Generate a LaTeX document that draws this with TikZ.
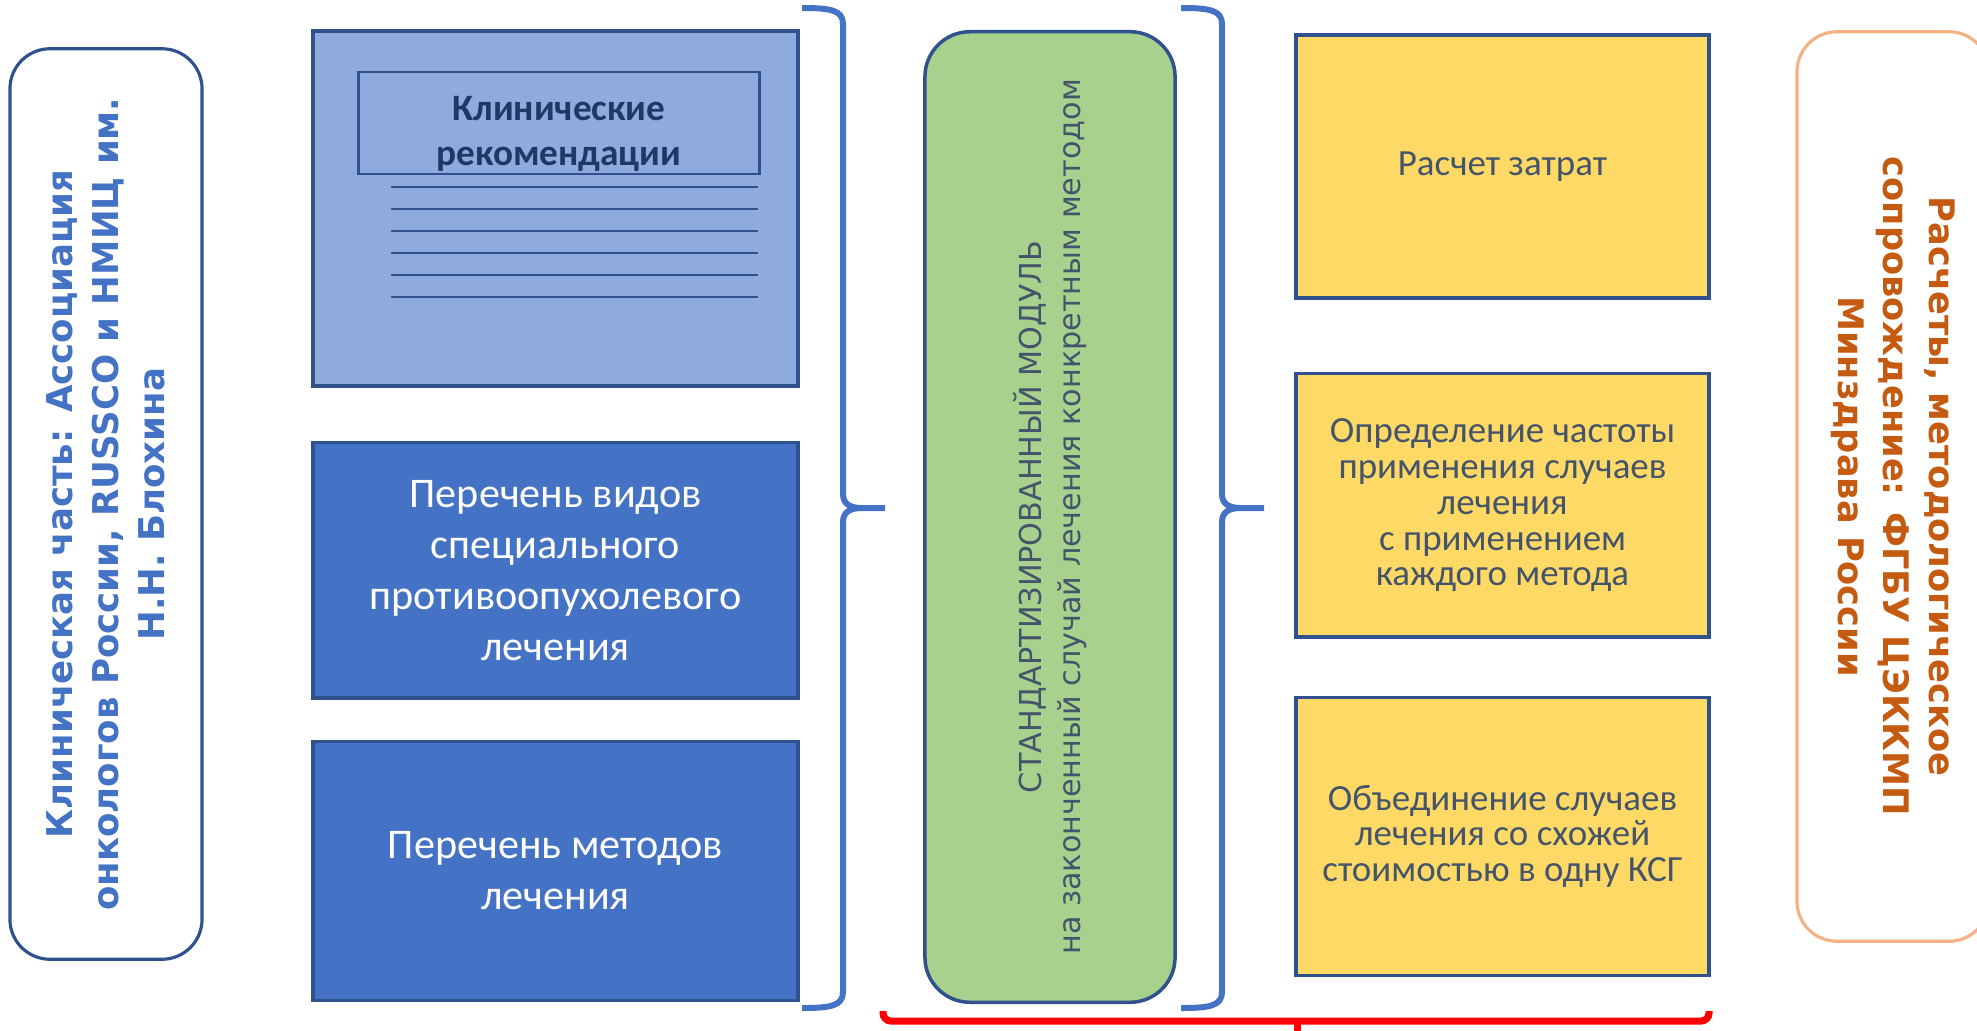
\documentclass[tikz,border=0pt]{standalone}
\usepackage{fontspec}
\setmainfont{Carlito}
\newfontfamily\widefont{DejaVu Sans}
\usepackage{xcolor}
\usepackage{tikz}
\usetikzlibrary{positioning}

\definecolor{boxline}{HTML}{2F528F}
\definecolor{lightblue}{HTML}{8FAADC}
\definecolor{darkblue}{HTML}{4472C4}
\definecolor{greenfill}{HTML}{A9D18E}
\definecolor{yellowfill}{HTML}{FFD966}
\definecolor{slatetext}{HTML}{44546A}
\definecolor{navytext}{HTML}{203864}
\definecolor{orangetext}{HTML}{C55A11}
\definecolor{orangeline}{HTML}{F4B183}

\tikzstyle{sidebox} = [rectangle, rounded corners=0.4cm, minimum width=9.1cm, minimum height=1.92cm, align=center, draw=boxline, line width=0.9pt, fill=white, font=\widefont\bfseries\fontsize{10.1}{13}\selectfont]
\tikzstyle{listbox} = [rectangle, minimum width=4.85cm, align=center, draw=boxline, line width=1pt, fill=darkblue, text=white, font=\fontsize{12}{14.5}\selectfont]
\tikzstyle{costbox} = [rectangle, minimum width=4.13cm, align=center, draw=boxline, line width=1pt, fill=yellowfill, text=slatetext, font=\fontsize{10.5}{10.2}\selectfont]
\tikzstyle{brace} = [darkblue, line width=1.7pt]
\tikzstyle{docline} = [boxline, line width=0.8pt]

\begin{document}
\begin{tikzpicture}[x=0.01cm, y=-0.01cm]
        \useasboundingbox (0,0) rectangle (1977,1030);

        % Nodes
        \node (clinic) [sidebox, rotate=90, text=darkblue] at (106,504) {Клиническая часть: Ассоциация\\ онкологов России, RUSSCO и НМИЦ им.\\ Н.Н. Блохина};

        \node (recbox) [rectangle, draw=boxline, line width=1pt, fill=lightblue, minimum width=4.85cm, minimum height=3.55cm] at (555.5,208.5) {};
        \node (rectitle) [rectangle, draw=boxline, line width=0.8pt, minimum width=4cm, minimum height=1.02cm] at (559,123) {};
        \node (rectext) [text=navytext, align=center, font=\bfseries\fontsize{10.6}{12.8}\selectfont] at (559,134) {Клинические\\ рекомендации};
        \foreach \y in {187,209,231,253,275,297}
            \draw [docline] (391,\y) -- (758,\y);

        \node (kinds) [listbox, minimum height=2.55cm, below=0.53cm of recbox] {Перечень видов\\ специального\\ противоопухолевого\\ лечения};
        \node (methods) [listbox, minimum height=2.59cm, below=0.40cm of kinds] {Перечень методов\\ лечения};

        \node (module) [rectangle, rounded corners=0.45cm, draw=boxline, line width=1pt, fill=greenfill, text=slatetext, rotate=90, minimum width=9.7cm, minimum height=2.5cm, align=center, font=\widefont\fontsize{8.6}{11}\selectfont] at (1050,517) {СТАНДАРТИЗИРОВАННЫЙ МОДУЛЬ\\ на законченный случай лечения конкретным методом};

        \node (costs) [costbox, minimum height=2.63cm] at (1502.5,166.5) {Расчет затрат};
        \node (freq) [costbox, minimum height=2.63cm, below=0.72cm of costs] {Определение частоты\\ применения случаев\\ лечения\\ с применением\\ каждого метода};
        \node (merge) [costbox, minimum height=2.78cm, below=0.57cm of freq] {Объединение случаев\\ лечения со схожей\\ стоимостью в одну КСГ};

        \node (support) [sidebox, rotate=-90, draw=orangeline, text=orangetext, minimum width=9.09cm, font=\widefont\bfseries\fontsize{10}{13}\selectfont] at (1893,486.5) {Расчеты, методологическое\\ сопровождение: ФГБУ ЦЭККМП\\ Минздрава России};

        % Braces
        \foreach \bx in {843,1222} {
            \draw [brace] (\bx-41,8) .. controls (\bx-13,8) and (\bx,10) .. (\bx,24) -- (\bx,494) .. controls (\bx,504) and (\bx+7,508) .. (\bx+19,508) -- (\bx+42,508);
            \draw [brace] (\bx,522) .. controls (\bx,512) and (\bx+7,508) .. (\bx+19,508);
            \draw [brace] (\bx,522) -- (\bx,992) .. controls (\bx,1006) and (\bx-13,1008) .. (\bx-41,1008);
        }

        % Bracket
        \draw [red, line width=2pt, rounded corners=0.08cm] (883,1011) -- (883,1021) -- (1709,1021) -- (1709,1011);
        \draw [red, line width=2pt] (1297,1021) -- (1297,1040);

    \end{tikzpicture}
\end{document}
